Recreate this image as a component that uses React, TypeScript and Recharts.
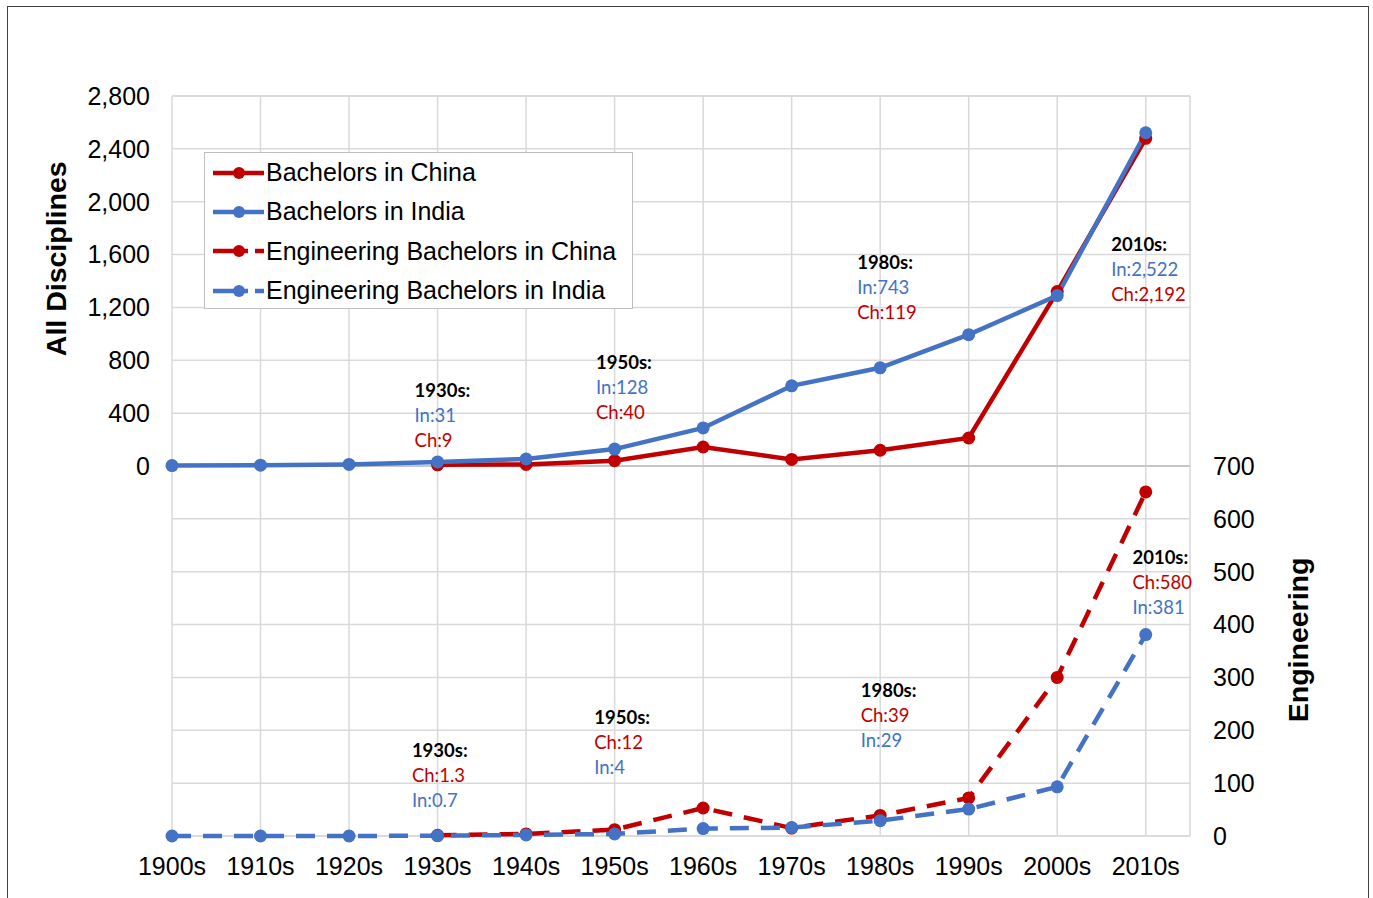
import React from "react";
import {
  CartesianGrid,
  Legend,
  Line,
  LineChart,
  ReferenceDot,
  ReferenceLine,
  XAxis,
  YAxis,
} from "recharts";

const RED = "#C00000";
const BLUE = "#4472C4";
const GRID = "#d9d9d9";
const SANS = "'Liberation Sans', Arial, sans-serif";
const NOTE_FONT = "Lato, 'Open Sans', sans-serif";

const DECADES = [1900, 1910, 1920, 1930, 1940, 1950, 1960, 1970, 1980, 1990, 2000, 2010];
const BACHELORS_CHINA = [null, null, null, 9, 12, 40, 144, 50, 119, 212, 1320, 2480];
const BACHELORS_INDIA = [3, 6, 12, 31, 53, 128, 288, 607, 743, 994, 1290, 2522];
const ENG_CHINA = [null, null, null, 1.3, 4, 12, 53, 15, 39, 72, 300, 651];
const ENG_INDIA = [0, 0, 0, 0.7, 2, 4, 14, 16, 29, 51, 93, 381];

const LEFT_TICKS = [0, 400, 800, 1200, 1600, 2000, 2400, 2800];
const RIGHT_TICKS = [0, 100, 200, 300, 400, 500, 600, 700];
const X_TICKS = [...DECADES, 2015];

const SERIES = [
  { key: "bachelorsChina", name: "Bachelors in China", color: RED, axis: "left", dashed: false },
  { key: "bachelorsIndia", name: "Bachelors in India", color: BLUE, axis: "left", dashed: false },
  { key: "engChina", name: "Engineering Bachelors in China", color: RED, axis: "right", dashed: true },
  { key: "engIndia", name: "Engineering Bachelors in India", color: BLUE, axis: "right", dashed: true },
];

// text notes, anchored in data units (x = decade position, y = value on the given axis)
const NOTES = [
  { x: 1927.4, y: 570, axis: "left", title: "1930s:", lines: [["In:31", BLUE], ["Ch:9", RED]] },
  { x: 1947.9, y: 782, axis: "left", title: "1950s:", lines: [["In:128", BLUE], ["Ch:40", RED]] },
  { x: 1977.4, y: 1540, axis: "left", title: "1980s:", lines: [["In:743", BLUE], ["Ch:119", RED]] },
  { x: 2006.1, y: 1669, axis: "left", title: "2010s:", lines: [["In:2,522", BLUE], ["Ch:2,192", RED]] },
  { x: 1927.1, y: 160, axis: "right", title: "1930s:", lines: [["Ch:1.3", RED], ["In:0.7", BLUE]] },
  { x: 1947.7, y: 224, axis: "right", title: "1950s:", lines: [["Ch:12", RED], ["In:4", BLUE]] },
  { x: 1977.8, y: 275, axis: "right", title: "1980s:", lines: [["Ch:39", RED], ["In:29", BLUE]] },
  { x: 2008.5, y: 526, axis: "right", title: "2010s:", lines: [["Ch:580", RED], ["In:381", BLUE]] },
];

const data = DECADES.map((decade, i) => ({
  decade,
  bachelorsChina: BACHELORS_CHINA[i],
  bachelorsIndia: BACHELORS_INDIA[i],
  engChina: ENG_CHINA[i],
  engIndia: ENG_INDIA[i],
}));

function NoteText({ cx, cy, title, lines }: any) {
  return (
    <text x={cx} y={cy + 6} fontFamily={NOTE_FONT} fontSize={18.5}>
      <tspan x={cx} fill="#000" fontWeight="bold">
        {title}
      </tspan>
      {lines.map(([t, c]: [string, string], i: number) => (
        <tspan key={i} x={cx} dy={25} fill={c}>
          {t}
        </tspan>
      ))}
    </text>
  );
}

function LegendBox() {
  return (
    <div
      style={{
        width: 429,
        height: 157,
        boxSizing: "border-box",
        border: "1.5px solid #bfbfbf",
        background: "#fff",
        fontFamily: SANS,
        fontSize: 25,
        color: "#000",
      }}
    >
      {SERIES.map((s) => (
        <div key={s.key} style={{ height: 39.3, display: "flex", alignItems: "center" }}>
          <svg width={55} height={20} style={{ marginLeft: 6 }}>
            {s.dashed ? (
              <>
                <line x1={2} y1={10} x2={37} y2={10} stroke={s.color} strokeWidth={4.5} />
                <line x1={44} y1={10} x2={53} y2={10} stroke={s.color} strokeWidth={4.5} />
              </>
            ) : (
              <line x1={2} y1={10} x2={53} y2={10} stroke={s.color} strokeWidth={4.5} />
            )}
            <circle cx={28} cy={10} r={6} fill={s.color} />
          </svg>
          <span>{s.name}</span>
        </div>
      ))}
    </div>
  );
}

export default function App() {
  const tickStyle = { fill: "#000", fontSize: 25, fontFamily: SANS };
  return (
    <div style={{ position: "absolute", left: 0, top: 0, width: 1373, height: 898, background: "#fff" }}>
      <div
        style={{
          position: "absolute",
          left: 7,
          top: 6,
          width: 1362,
          height: 900,
          boxSizing: "border-box",
          border: "1.5px solid #404040",
        }}
      />
      <div style={{ position: "absolute", left: 0, top: 0 }}>
        <LineChart
          width={1373}
          height={898}
          data={data}
          margin={{ top: 96, right: 83, bottom: 22, left: 72 }}
        >
          <CartesianGrid yAxisId="left" stroke={GRID} strokeWidth={1.5} />
          <CartesianGrid yAxisId="right" vertical={false} stroke={GRID} strokeWidth={1.5} />
          <XAxis
            type="number"
            dataKey="decade"
            domain={[1900, 2015]}
            ticks={X_TICKS}
            interval={0}
            tickFormatter={(v) => (v === 2015 ? "" : `${v}s`)}
            axisLine={false}
            tickLine={false}
            tickSize={0}
            tickMargin={21}
            height={40}
            tick={tickStyle}
          />
          <YAxis
            yAxisId="left"
            domain={[-2800, 2800]}
            ticks={LEFT_TICKS}
            interval={0}
            tickFormatter={(v) => v.toLocaleString("en-US")}
            axisLine={false}
            tickLine={false}
            tickSize={0}
            tickMargin={22}
            width={100}
            tick={tickStyle}
            label={{
              content: ({ viewBox }: any) => {
                const cx = viewBox.x - 16;
                const cy = viewBox.y + viewBox.height * 0.22;
                return (
                  <text
                    x={cx}
                    y={cy}
                    transform={`rotate(-90 ${cx} ${cy})`}
                    textAnchor="middle"
                    dominantBaseline="central"
                    fontFamily={SANS}
                    fontWeight="bold"
                    fontSize={28.5}
                    fill="#000"
                  >
                    All Disciplines
                  </text>
                );
              },
            }}
          />
          <YAxis
            yAxisId="right"
            orientation="right"
            domain={[0, 1400]}
            ticks={RIGHT_TICKS}
            interval={0}
            axisLine={false}
            tickLine={false}
            tickSize={0}
            tickMargin={23}
            width={100}
            tick={tickStyle}
            label={{
              content: ({ viewBox }: any) => {
                const cx = viewBox.x + 108;
                const cy = viewBox.y + viewBox.height * 0.735;
                return (
                  <text
                    x={cx}
                    y={cy}
                    transform={`rotate(-90 ${cx} ${cy})`}
                    textAnchor="middle"
                    dominantBaseline="central"
                    fontFamily={SANS}
                    fontWeight="bold"
                    fontSize={28.5}
                    fill="#000"
                  >
                    Engineering
                  </text>
                );
              },
            }}
          />
          <ReferenceLine yAxisId="left" y={0} stroke="#bfbfbf" strokeWidth={1.5} />
          <Legend
            layout="horizontal"
            verticalAlign="middle"
            align="center"
            wrapperStyle={{ left: 204, top: 152, width: 429 }}
            content={() => <LegendBox />}
          />
          {SERIES.map((s) => (
            <Line
              key={s.key}
              yAxisId={s.axis}
              dataKey={s.key}
              name={s.name}
              type="linear"
              stroke={s.color}
              strokeWidth={4.5}
              strokeDasharray={s.dashed ? "19 12" : undefined}
              dot={{ r: 6.5, fill: s.color, stroke: s.color, strokeWidth: 0, strokeDasharray: "" }}
              activeDot={false}
              isAnimationActive={false}
            />
          ))}
          {NOTES.map((n, i) => (
            <ReferenceDot
              key={i}
              yAxisId={n.axis}
              x={n.x}
              y={n.y}
              r={1}
              shape={(p: any) => <NoteText cx={p.cx} cy={p.cy} title={n.title} lines={n.lines} />}
            />
          ))}
        </LineChart>
      </div>
    </div>
  );
}
